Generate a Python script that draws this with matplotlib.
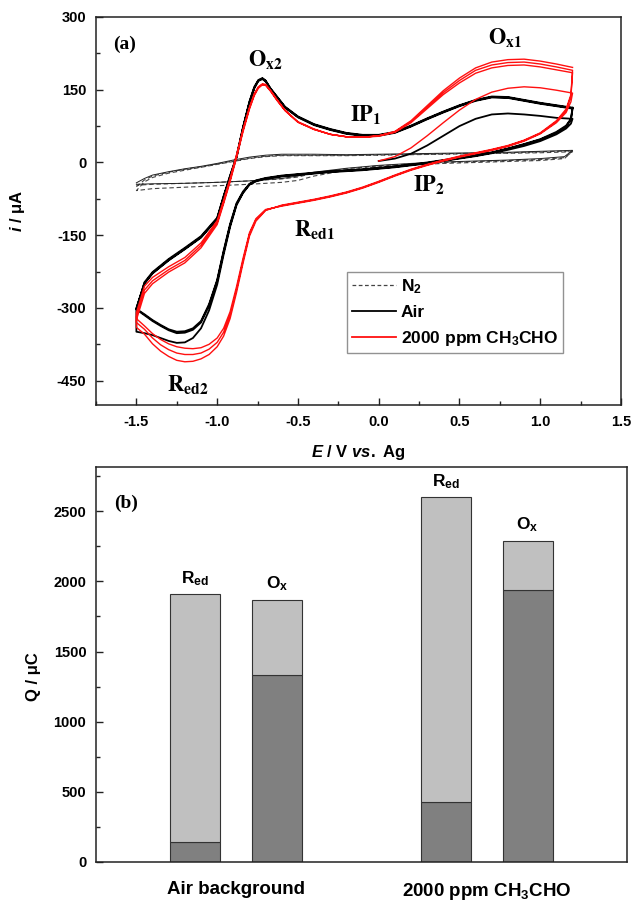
import matplotlib
matplotlib.use('Agg')
import matplotlib.pyplot as plt
from matplotlib.lines import Line2D
from matplotlib.ticker import MultipleLocator

plt.rcParams['font.family'] = ['Liberation Sans', 'DejaVu Sans']
plt.rcParams['font.weight'] = 'bold'
plt.rcParams['mathtext.fontset'] = 'custom'
plt.rcParams['mathtext.rm'] = 'Liberation Sans:bold'
plt.rcParams['mathtext.bf'] = 'Liberation Sans:bold'
plt.rcParams['mathtext.it'] = 'Liberation Sans:italic:bold'
plt.rcParams['axes.linewidth'] = 1.1
plt.rcParams['axes.unicode_minus'] = False

# ---------------- data: panel (a) cyclic voltammograms ----------------
E_FWD = [-1.50, -1.45, -1.40, -1.30, -1.20, -1.10, -1.00, -0.96, -0.92, -0.88, -0.84, -0.80,
         -0.77, -0.745, -0.72, -0.70, -0.67, -0.63, -0.58, -0.50, -0.40, -0.30, -0.20, -0.10,
         0.00, 0.10, 0.20, 0.30, 0.40, 0.50, 0.60, 0.70, 0.80, 0.90, 1.00, 1.10, 1.20]
E_REV = [1.20, 1.19, 1.16, 1.10, 1.00, 0.90, 0.80, 0.70, 0.60, 0.50, 0.40, 0.30, 0.20, 0.10,
         0.00, -0.10, -0.20, -0.30, -0.40, -0.50, -0.60, -0.70, -0.76, -0.80, -0.84, -0.88,
         -0.92, -0.96, -1.00, -1.05, -1.10, -1.15, -1.20, -1.25, -1.30, -1.35, -1.40, -1.45, -1.50]
E_FIRST = [0.00, 0.10, 0.20, 0.30, 0.40, 0.50, 0.60, 0.70, 0.80, 0.90, 1.00, 1.10, 1.20]

# 2000 ppm CH3CHO (red)
red_first = [3, 12, 30, 55, 82, 108, 130, 145, 153, 156, 154, 149, 143]
red_rev1 = [143, 125, 103, 82, 59, 44, 33, 25, 18, 11, 3, -6, -16, -28, -41, -53, -63, -71, -78,
            -84, -90, -97, -116, -145, -198, -256, -308, -342, -362, -375, -382, -384, -383,
            -380, -374, -365, -353, -337, -322]
red_fwd1 = [-310, -255, -237, -215, -196, -166, -120, -78, -33, 16, 68, 114, 142, 156, 162, 161,
            149, 130, 108, 84, 69, 58, 53, 52, 54, 62, 82, 111, 140, 164, 184, 195, 200, 201,
            197, 191, 185]
red_rev2 = [185, 136, 107, 84, 60, 45, 34, 26, 19, 12, 4, -5, -15, -27, -40, -52, -62, -70, -77,
            -83, -89, -98, -118, -148, -203, -262, -315, -350, -371, -385, -393, -396, -396,
            -393, -386, -376, -362, -344, -330]
red_fwd2 = [-318, -263, -244, -221, -202, -171, -124, -82, -37, 13, 66, 112, 140, 155, 161, 160,
            148, 129, 107, 83, 68, 58, 53, 52, 55, 63, 84, 114, 144, 169, 190, 201, 206, 207,
            203, 197, 190]
red_rev3 = [190, 140, 110, 86, 61, 46, 35, 27, 20, 13, 5, -4, -14, -26, -39, -51, -61, -69, -76,
            -82, -88, -99, -121, -152, -208, -268, -322, -358, -380, -396, -405, -410, -411,
            -408, -400, -389, -374, -354, -340]
red_fwd3 = [-325, -270, -250, -226, -207, -176, -128, -85, -40, 10, 63, 110, 138, 153, 160, 159,
            147, 128, 107, 83, 68, 58, 53, 52, 55, 64, 86, 117, 148, 174, 195, 207, 212, 213,
            209, 203, 196]

# Air (black)
air_first = [3, 8, 18, 35, 55, 75, 90, 99, 101, 99, 96, 92, 90]
air_rev1 = [90, 80, 70, 58, 44, 34, 26, 19, 13, 8, 3, -2, -6, -10, -13, -16, -18, -20, -23, -26,
            -29, -34, -39, -46, -63, -88, -133, -190, -252, -305, -342, -362, -371, -372, -368,
            -362, -356, -352, -349]
air_fwd1 = [-300, -249, -229, -202, -179, -155, -117, -72, -30, 10, 70, 123, 153, 168, 172, 167,
            151, 134, 113, 93, 77, 67, 59, 55, 55, 61, 74, 89, 103, 116, 127, 134, 133, 127, 121,
            116, 111]
air_rev2 = [111, 88, 74, 61, 47, 37, 28, 20, 14, 9, 4, -1, -5, -9, -12, -15, -17, -19, -22, -25,
            -28, -33, -38, -45, -62, -86, -130, -185, -245, -295, -330, -345, -351, -352, -346,
            -337, -327, -315, -303]
air_fwd2 = [-303, -250, -228, -201, -178, -154, -116, -71, -29, 11, 71, 124, 154, 169, 173, 168,
            152, 135, 114, 94, 78, 68, 60, 56, 56, 62, 75, 90, 104, 117, 128, 135, 134, 128, 122,
            117, 112]
air_rev3 = [113, 90, 76, 63, 48, 38, 29, 21, 15, 10, 5, 0, -4, -8, -11, -14, -16, -18, -21, -24,
            -27, -32, -37, -44, -60, -84, -127, -182, -242, -292, -327, -342, -348, -349, -344,
            -335, -325, -313, -302]
air_fwd3 = [-302, -247, -226, -199, -176, -152, -114, -69, -27, 13, 73, 126, 156, 170, 174, 169,
            153, 136, 115, 95, 79, 69, 61, 57, 57, 63, 76, 91, 105, 118, 129, 136, 135, 129, 123,
            118, 113]

# N2 (dashed) and a thin solid background loop
E_N2_UP = [-1.50, -1.45, -1.40, -1.30, -1.20, -1.10, -1.00, -0.90, -0.80, -0.70, -0.60, -0.40,
           -0.20, 0.00, 0.20, 0.40, 0.60, 0.80, 1.00, 1.20]
E_N2_DN = [1.20, 1.15, 1.00, 0.80, 0.60, 0.40, 0.20, 0.00, -0.20, -0.40, -0.50, -0.60, -0.80,
           -1.00, -1.20, -1.40, -1.50]
n2_up1 = [-50, -36, -28, -20, -14, -9, -3, 3, 9, 13, 15, 15, 15, 16, 17, 18, 19, 20, 22, 24]
n2_dn1 = [24, 8, 4, 2, 0, -2, -5, -9, -16, -28, -37, -41, -45, -48, -51, -54, -58]
n2_up2 = [-58, -40, -31, -22, -16, -10, -4, 2, 8, 12, 14, 14, 14, 15, 16, 17, 18, 19, 20, 22]
n2_dn2 = [22, 10, 6, 4, 2, 0, -3, -7, -13, -22, -30, -34, -38, -41, -43, -45, -47]
bg_up = [-42, -33, -26, -19, -13, -8, -2, 5, 11, 15, 17, 17, 16, 17, 18, 19, 20, 21, 23, 25]
bg_dn = [25, 12, 8, 5, 3, 1, -2, -6, -12, -20, -28, -33, -38, -41, -43, -44, -45]

# ---------------- data: panel (b) charges ----------------
groups = ['Air background', '2000 ppm CH$_3$CHO']
red_total = [1910, 2600]
red_dark = [140, 430]
ox_total = [1870, 2290]
ox_dark = [1330, 1940]

# ---------------- figure ----------------
fig = plt.figure(figsize=(6.43, 9.17), dpi=100)
ax1 = fig.add_axes([0.1493, 0.5584, 0.8165, 0.4231])
ax2 = fig.add_axes([0.1493, 0.0600, 0.8258, 0.4307])

RED = '#ff1010'

# panel (a)
ax1.plot(E_N2_UP + E_N2_DN + E_N2_UP + E_N2_DN, n2_up1 + n2_dn1 + n2_up2 + n2_dn2,
         color='#444444', lw=0.8, ls=(0, (4, 2.5)))
ax1.plot(E_N2_UP + E_N2_DN, bg_up + bg_dn, color='#222222', lw=0.7)

E_seq = E_FIRST + E_REV + E_FWD + E_REV + E_FWD + E_REV + E_FWD
ax1.plot(E_seq, air_first + air_rev1 + air_fwd1 + air_rev2 + air_fwd2 + air_rev3 + air_fwd3,
         color='black', lw=1.3)
ax1.plot(E_seq, red_first + red_rev1 + red_fwd1 + red_rev2 + red_fwd2 + red_rev3 + red_fwd3,
         color=RED, lw=1.0)

ax1.set_xlim(-1.75, 1.5)
ax1.set_ylim(-500, 300)
ax1.set_xticks([-1.5, -1.0, -0.5, 0.0, 0.5, 1.0, 1.5])
ax1.set_yticks([300, 150, 0, -150, -300, -450])
ax1.xaxis.set_minor_locator(MultipleLocator(0.25))
ax1.yaxis.set_minor_locator(MultipleLocator(75))
ax1.tick_params(which='both', direction='in', top=False, right=False, labelsize=10.5,
                width=1.0, color='#222222')
ax1.tick_params(which='major', length=5)
ax1.tick_params(which='minor', length=3)
ax1.tick_params(axis='x', pad=7)
ax1.tick_params(axis='y', pad=7)
for lab in ax1.get_xticklabels() + ax1.get_yticklabels():
    lab.set_fontweight('bold')
ax1.set_xlabel('$E$ / V $vs.$ Ag', fontsize=12, fontweight='bold', labelpad=10)
ax1.set_ylabel('$i$ / μA', fontsize=12, fontweight='bold')
ax1.yaxis.set_label_coords(-0.131, 0.5)

ann = dict(math_fontfamily='stix', fontsize=16, color='black', ha='center', va='baseline')
ax1.text(-1.645, 243, '(a)', family='Liberation Serif', fontweight='bold', fontsize=14,
         ha='left', va='center')
ax1.text(-0.70, 198, r'$\mathbf{O_{x2}}$', **ann)
ax1.text(0.78, 243, r'$\mathbf{O_{x1}}$', **ann)
ax1.text(-0.08, 84, r'$\mathbf{IP_{1}}$', **ann)
ax1.text(0.31, -60, r'$\mathbf{IP_{2}}$', **ann)
ax1.text(-0.40, -153, r'$\mathbf{R_{ed1}}$', **ann)
ax1.text(-1.18, -473, r'$\mathbf{R_{ed2}}$', **ann)

handles = [Line2D([], [], color='#444444', lw=0.9, ls=(0, (3, 2))),
           Line2D([], [], color='black', lw=1.3),
           Line2D([], [], color=RED, lw=1.3)]
leg = ax1.legend(handles, ['N$_2$', 'Air', '2000 ppm CH$_3$CHO'], loc='upper left',
                 bbox_to_anchor=(0.478, 0.342), frameon=True, fancybox=False,
                 handlelength=2.5, handletextpad=0.3, borderpad=0.3, labelspacing=0.5,
                 borderaxespad=0.0, prop={'weight': 'bold', 'size': 12.5})
leg.get_frame().set_edgecolor('#777777')
leg.get_frame().set_linewidth(1.0)

# panel (b)
x = [0, 1]
off = 0.163
w = 0.2
xr = [v - off for v in x]
xo = [v + off for v in x]
light = '#c0c0c0'
dark = '#808080'
edge = '#333333'
ax2.bar(xr, red_dark, width=w, color=dark, edgecolor=edge, linewidth=0.8)
ax2.bar(xr, [t - d for t, d in zip(red_total, red_dark)], bottom=red_dark, width=w,
        color=light, edgecolor=edge, linewidth=0.8)
ax2.bar(xo, ox_dark, width=w, color=dark, edgecolor=edge, linewidth=0.8)
ax2.bar(xo, [t - d for t, d in zip(ox_total, ox_dark)], bottom=ox_dark, width=w,
        color=light, edgecolor=edge, linewidth=0.8)
for xi, t in zip(xr, red_total):
    ax2.annotate(r'R$_{\mathrm{ed}}$', (xi, t), xytext=(0, 8), textcoords='offset points',
                 ha='center', va='baseline', fontsize=12.5, fontweight='bold')
for xi, t in zip(xo, ox_total):
    ax2.annotate(r'O$_{\mathrm{x}}$', (xi, t), xytext=(0, 8), textcoords='offset points',
                 ha='center', va='baseline', fontsize=12.5, fontweight='bold')

ax2.set_xlim(-0.56, 1.56)
ax2.set_ylim(0, 2815)
ax2.set_xticks(x)
ax2.set_xticklabels(groups, fontsize=13.5, fontweight='bold')
ax2.set_yticks([0, 500, 1000, 1500, 2000, 2500])
ax2.yaxis.set_minor_locator(MultipleLocator(250))
ax2.tick_params(axis='x', length=0, pad=14)
ax2.tick_params(axis='y', which='both', direction='in', labelsize=10.5, width=1.0,
                color='#222222', pad=7)
ax2.tick_params(axis='y', which='major', length=5)
ax2.tick_params(axis='y', which='minor', length=3)
for lab in ax2.get_yticklabels():
    lab.set_fontweight('bold')
ax2.set_ylabel('Q / μC', fontsize=12, fontweight='bold')
ax2.yaxis.set_label_coords(-0.104, 0.47)
ax2.text(0.035, 2558, '(b)', transform=ax2.get_yaxis_transform(), family='Liberation Serif',
         fontweight='bold', fontsize=14, ha='left', va='center')

for ax in (ax1, ax2):
    for s in ax.spines.values():
        s.set_color('#222222')

fig.savefig('out.png', dpi=100)
